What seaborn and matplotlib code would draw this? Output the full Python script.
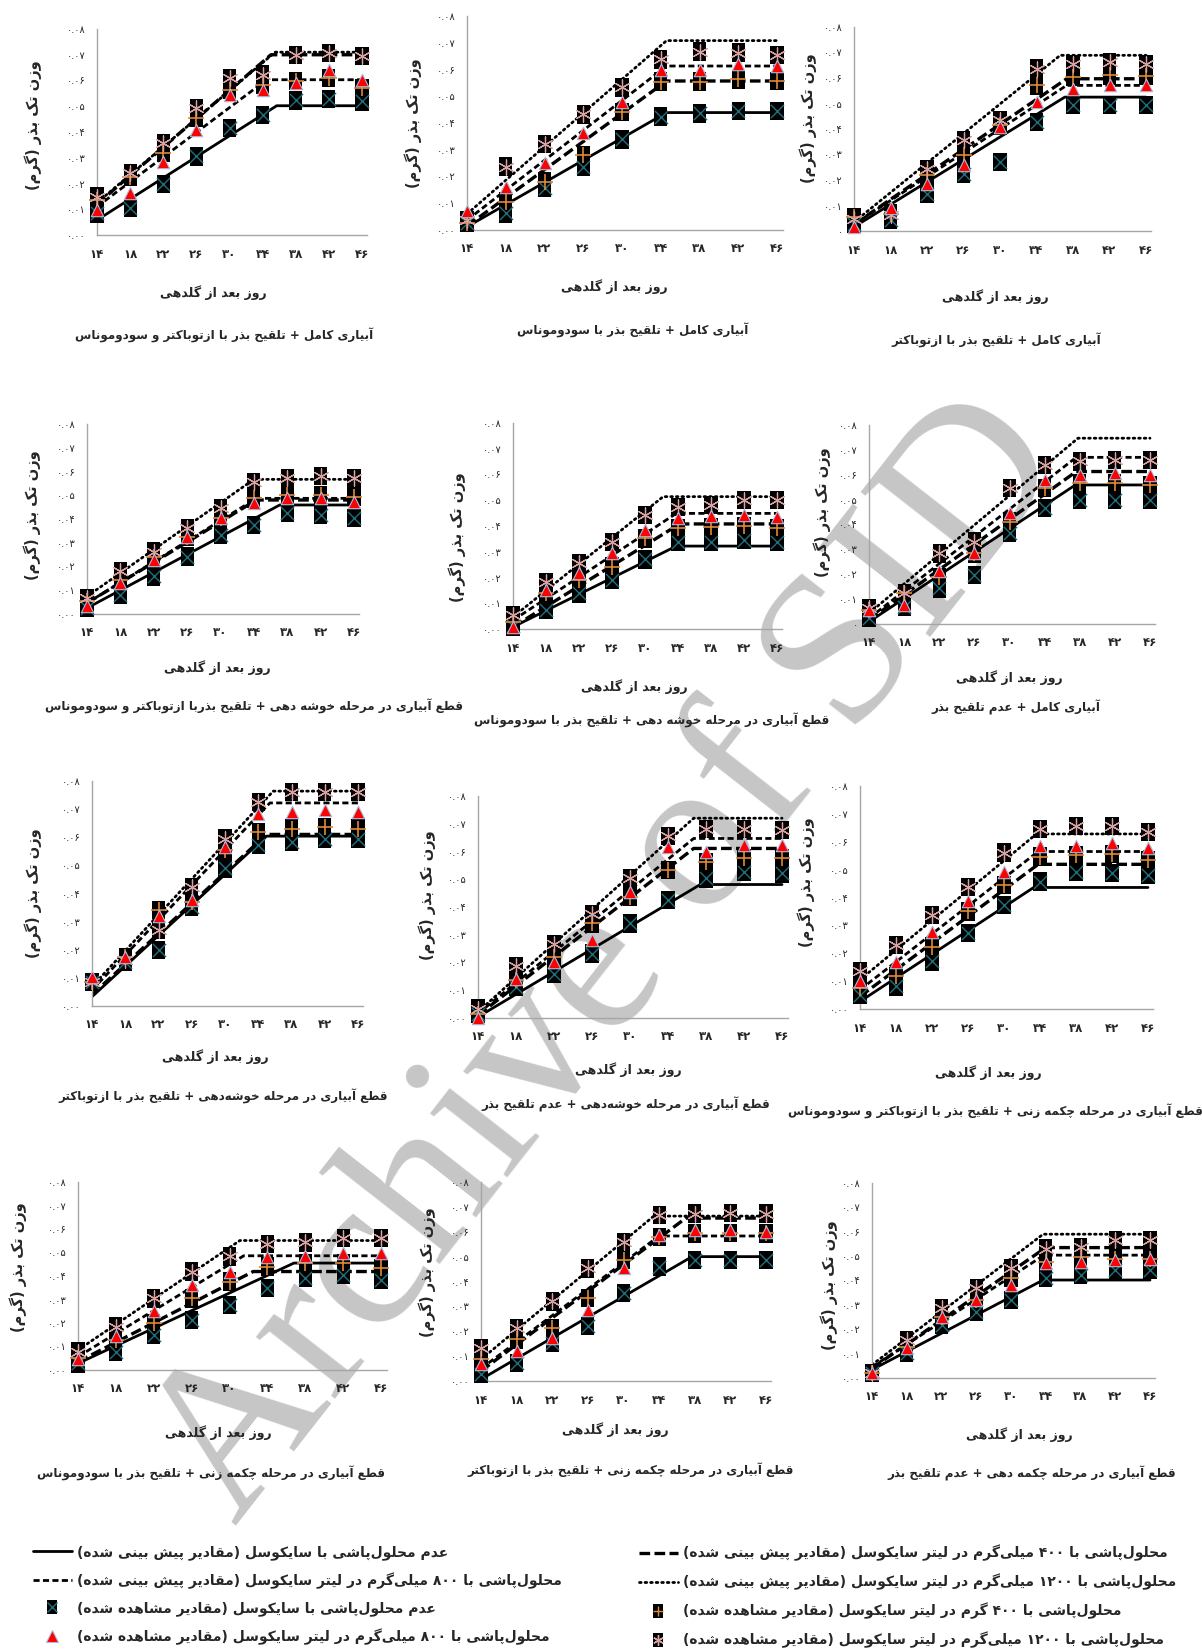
import re
import numpy as np
import pandas as pd
import matplotlib
matplotlib.use("Agg")
import matplotlib.pyplot as plt
from matplotlib.path import Path
from matplotlib.lines import Line2D
from matplotlib.legend_handler import HandlerTuple
import seaborn as sns

# ---------------------------------------------------------------- data
days = [14, 18, 22, 26, 30, 34, 38, 42, 46]

panel_titles = [
    "آبیاری کامل + تلقیح بذر با ازتوباکتر و سودوموناس",
    "آبیاری کامل + تلقیح بذر با سودوموناس",
    "آبیاری کامل + تلقیح بذر با ازتوباکتر",
    "قطع آبیاری در مرحله خوشه دهی + تلقیح بذربا ازتوباکتر و سودوموناس",
    "قطع آبیاری در مرحله خوشه دهی + تلقیح بذر با سودوموناس",
    "آبیاری کامل + عدم تلقیح بذر",
    "قطع آبیاری در مرحله خوشه‌دهی + تلقیح بذر با ازتوباکتر",
    "قطع آبیاری در مرحله خوشه‌دهی + عدم تلقیح بذر",
    "قطع آبیاری در مرحله چکمه زنی + تلقیح بذر با ازتوباکتر و سودوموناس",
    "قطع آبیاری در مرحله چکمه زنی + تلقیح بذر با سودوموناس",
    "قطع آبیاری در مرحله چکمه زنی + تلقیح بذر با ازتوباکتر",
    "قطع آبیاری در مرحله چکمه دهی + عدم تلقیح بذر",
]
x_label = "روز بعد از گلدهی"
y_label = "وزن تک بذر (گرم)"
x_ticklabels = ["۱۴", "۱۸", "۲۲", "۲۶", "۳۰", "۳۴", "۳۸", "۴۲", "۴۶"]
y_ticklabels = ["۰.۰۰", "۰.۰۱", "۰.۰۲", "۰.۰۳", "۰.۰۴", "۰.۰۵", "۰.۰۶", "۰.۰۷", "۰.۰۸"]
short_zero_panels = [2, 5]

# observed single-seed weight (g x 100), one row per panel
obs_control = [
    [0.84, 1.04, 1.98, 3.05, 4.15, 4.67, 5.23, 5.28, 5.19],
    [0.25, 0.62, 1.56, 2.37, 3.39, 4.24, 4.36, 4.45, 4.45],
    [0.29, 0.42, 1.46, 2.25, 2.71, 4.27, 4.93, 4.93, 4.93],
    [0.25, 0.81, 1.58, 2.42, 3.33, 3.75, 4.24, 4.17, 4.03],
    [0.10, 0.73, 1.38, 1.90, 2.70, 3.39, 3.39, 3.45, 3.39],
    [0.23, 0.70, 1.43, 1.97, 3.65, 4.66, 4.99, 4.99, 4.99],
    [0.86, 1.57, 1.99, 3.53, 4.89, 5.72, 5.83, 5.93, 5.93],
    [0.16, 1.12, 1.60, 2.32, 3.41, 4.25, 5.03, 5.27, 5.21],
    [0.51, 0.81, 1.71, 2.72, 3.74, 4.57, 4.93, 4.87, 4.81],
    [0.28, 0.78, 1.49, 2.13, 2.77, 3.48, 3.91, 4.05, 3.84],
    [0.27, 0.73, 1.53, 2.20, 3.53, 4.60, 4.87, 4.87, 4.87],
    [0.20, 1.02, 2.18, 2.72, 3.20, 4.09, 4.22, 4.43, 4.43],
]
obs_400 = [
    [1.36, 2.27, 3.18, 4.54, 5.64, 5.84, 5.97, 6.10, 5.70],
    [0.25, 1.06, 1.81, 2.80, 4.42, 5.55, 5.55, 5.63, 5.57],
    [0.55, 0.68, 2.18, 2.97, 4.14, 5.71, 6.04, 6.10, 6.07],
    [0.53, 1.44, 2.42, 3.26, 4.03, 4.87, 5.01, 5.01, 4.94],
    [0.27, 1.38, 1.90, 2.42, 3.52, 3.91, 3.97, 4.00, 3.91],
    [0.56, 1.23, 1.90, 2.84, 4.12, 5.46, 5.66, 5.66, 5.59],
    [0.86, 1.75, 3.41, 3.70, 5.54, 6.19, 6.31, 6.37, 6.31],
    [0.16, 1.36, 2.20, 3.41, 4.37, 5.33, 5.63, 5.75, 5.75],
    [0.75, 1.19, 2.24, 3.50, 4.45, 5.47, 5.53, 5.56, 5.35],
    [0.50, 1.28, 1.99, 3.05, 3.76, 4.40, 4.55, 4.55, 4.33],
    [0.87, 1.67, 2.13, 3.33, 4.87, 5.80, 5.93, 5.96, 5.93],
    [0.20, 1.29, 2.52, 3.20, 4.09, 4.77, 4.97, 4.90, 4.90],
]
obs_800 = [
    [0.97, 1.65, 2.85, 4.09, 5.45, 5.64, 5.90, 6.42, 6.03],
    [0.72, 1.60, 2.52, 3.61, 4.80, 5.98, 5.98, 6.20, 6.14],
    [0.16, 0.90, 1.86, 2.58, 4.08, 5.06, 5.58, 5.71, 5.71],
    [0.32, 1.30, 2.28, 3.26, 4.03, 4.66, 4.87, 4.87, 4.73],
    [0.08, 1.53, 2.18, 2.94, 3.84, 4.30, 4.39, 4.43, 4.36],
    [0.56, 0.76, 2.14, 2.84, 4.45, 5.79, 5.99, 6.06, 5.99],
    [1.04, 1.75, 3.20, 3.76, 5.66, 6.84, 6.90, 6.98, 6.90],
    [0.00, 1.42, 2.02, 2.80, 4.55, 6.17, 5.99, 6.23, 6.23],
    [0.99, 1.67, 2.75, 3.86, 4.93, 5.83, 5.83, 5.97, 5.77],
    [0.45, 1.45, 2.49, 3.62, 4.16, 4.80, 4.86, 5.00, 4.97],
    [0.67, 1.20, 1.73, 2.87, 4.53, 5.87, 6.07, 6.07, 6.00],
    [0.20, 1.23, 2.52, 3.20, 3.81, 4.70, 4.77, 4.84, 4.90],
]
obs_1200 = [
    [1.49, 2.40, 3.57, 4.93, 6.10, 6.23, 7.00, 7.07, 6.96],
    [0.37, 2.37, 3.21, 4.32, 5.33, 6.38, 6.67, 6.63, 6.54],
    [0.48, 0.61, 2.44, 3.56, 4.34, 6.37, 6.56, 6.63, 6.54],
    [0.67, 1.79, 2.63, 3.61, 4.45, 5.57, 5.71, 5.81, 5.71],
    [0.53, 1.83, 2.55, 3.39, 4.43, 4.75, 4.82, 5.01, 5.01],
    [0.63, 1.23, 2.84, 3.31, 5.46, 6.40, 6.54, 6.60, 6.60],
    [0.86, 1.63, 2.70, 4.24, 5.95, 7.25, 7.61, 7.61, 7.61],
    [0.34, 1.87, 2.65, 3.74, 5.03, 6.56, 6.80, 6.80, 6.77],
    [1.35, 2.30, 3.38, 4.37, 5.61, 6.45, 6.57, 6.57, 6.36],
    [0.78, 1.85, 3.05, 4.19, 4.83, 5.36, 5.43, 5.61, 5.61],
    [1.33, 2.13, 3.20, 4.53, 5.60, 6.67, 6.73, 6.76, 6.73],
    [0.20, 1.57, 2.86, 3.68, 4.50, 5.31, 5.38, 5.65, 5.65],
]

# predicted segmented (linear-plateau) fits: (value at day 14, break day, plateau), g x 100
fit_control = [(0.58, 35.7, 5.02), (0.12, 34.6, 4.39), (0.16, 37.1, 5.25), (0.25, 37.1, 4.59),
               (0.08, 33.8, 3.22), (0.09, 37.5, 5.59), (0.33, 35.0, 6.04), (0.04, 37.4, 4.81),
               (0.27, 33.3, 4.36), (0.28, 36.8, 4.55), (0.07, 37.7, 5.00), (0.34, 33.7, 4.02)]
fit_400 = [(1.20, 35.0, 7.00), (0.15, 34.6, 5.57), (0.26, 37.3, 5.97), (0.46, 34.3, 4.80),
           (0.08, 34.2, 4.08), (0.16, 37.6, 6.13), (0.40, 35.0, 6.10), (0.10, 36.7, 6.11),
           (0.45, 33.8, 5.19), (0.35, 32.5, 4.19), (0.40, 37.0, 6.55), (0.40, 34.0, 5.35)]
fit_800 = [(1.10, 34.5, 6.03), (0.37, 34.6, 6.13), (0.26, 37.3, 5.71), (0.46, 34.3, 4.87),
           (0.34, 33.8, 4.49), (0.23, 37.6, 6.70), (0.57, 35.4, 7.22), (0.16, 36.7, 6.47),
           (0.69, 33.8, 5.65), (0.57, 31.5, 4.86), (0.50, 34.0, 5.83), (0.45, 33.8, 5.04)]
fit_1200 = [(1.25, 35.5, 7.10), (0.60, 34.6, 7.08), (0.35, 36.6, 6.89), (0.74, 34.0, 5.67),
            (0.47, 32.2, 5.14), (0.43, 37.8, 7.47), (0.69, 35.8, 7.64), (0.22, 36.7, 7.20),
            (1.05, 33.6, 6.28), (0.85, 31.1, 5.51), (0.87, 33.4, 6.63), (0.54, 33.7, 5.90)]

legend_labels = [
    "عدم محلول‌پاشی با سایکوسل (مقادیر پیش بینی شده)",
    "محلول‌پاشی با ۸۰۰ میلی‌گرم در لیتر سایکوسل (مقادیر پیش بینی شده)",
    "عدم محلول‌پاشی با سایکوسل (مقادیر مشاهده شده)",
    "محلول‌پاشی با ۸۰۰ میلی‌گرم در لیتر سایکوسل (مقادیر مشاهده شده)",
    "محلول‌پاشی با ۴۰۰ میلی‌گرم در لیتر سایکوسل (مقادیر پیش بینی شده)",
    "محلول‌پاشی با ۱۲۰۰ میلی‌گرم در لیتر سایکوسل (مقادیر پیش بینی شده)",
    "محلول‌پاشی با ۴۰۰ گرم در لیتر سایکوسل (مقادیر مشاهده شده)",
    "محلول‌پاشی با ۱۲۰۰ میلی‌گرم در لیتر سایکوسل (مقادیر مشاهده شده)",
]

# ------------------------------------------------- Persian text shaping
_DUAL = {
    "ب": "\uFE8F\uFE90\uFE91\uFE92", "پ": "\uFB56\uFB57\uFB58\uFB59",
    "ت": "\uFE95\uFE96\uFE97\uFE98", "ث": "\uFE99\uFE9A\uFE9B\uFE9C",
    "ج": "\uFE9D\uFE9E\uFE9F\uFEA0", "چ": "\uFB7A\uFB7B\uFB7C\uFB7D",
    "ح": "\uFEA1\uFEA2\uFEA3\uFEA4", "خ": "\uFEA5\uFEA6\uFEA7\uFEA8",
    "س": "\uFEB1\uFEB2\uFEB3\uFEB4", "ش": "\uFEB5\uFEB6\uFEB7\uFEB8",
    "ص": "\uFEB9\uFEBA\uFEBB\uFEBC", "ض": "\uFEBD\uFEBE\uFEBF\uFEC0",
    "ط": "\uFEC1\uFEC2\uFEC3\uFEC4", "ظ": "\uFEC5\uFEC6\uFEC7\uFEC8",
    "ع": "\uFEC9\uFECA\uFECB\uFECC", "غ": "\uFECD\uFECE\uFECF\uFED0",
    "ف": "\uFED1\uFED2\uFED3\uFED4", "ق": "\uFED5\uFED6\uFED7\uFED8",
    "ک": "\uFB8E\uFB8F\uFB90\uFB91", "گ": "\uFB92\uFB93\uFB94\uFB95",
    "ل": "\uFEDD\uFEDE\uFEDF\uFEE0", "م": "\uFEE1\uFEE2\uFEE3\uFEE4",
    "ن": "\uFEE5\uFEE6\uFEE7\uFEE8", "ه": "\uFEE9\uFEEA\uFEEB\uFEEC",
    "ی": "\uFBFC\uFBFD\uFBFE\uFBFF",
}
_RIGHT = {
    "ا": "\uFE8D\uFE8E", "آ": "\uFE81\uFE82", "د": "\uFEA9\uFEAA",
    "ذ": "\uFEAB\uFEAC", "ر": "\uFEAD\uFEAE", "ز": "\uFEAF\uFEB0",
    "ژ": "\uFB8A\uFB8B", "و": "\uFEED\uFEEE",
}
_LAMALEF = {"ا": "\uFEFB\uFEFC", "آ": "\uFEF5\uFEF6"}


def _shape(s):
    out = []
    n = len(s)
    i = 0
    while i < n:
        c = s[i]
        prev_joins = i > 0 and s[i - 1] in _DUAL
        if c == "ل" and i + 1 < n and s[i + 1] in _LAMALEF:
            forms = _LAMALEF[s[i + 1]]
            out.append(forms[1] if prev_joins else forms[0])
            i += 2
            continue
        if c in _DUAL:
            next_joins = i + 1 < n and (s[i + 1] in _DUAL or s[i + 1] in _RIGHT)
            iso, fin, ini, med = _DUAL[c]
            if prev_joins and next_joins:
                out.append(med)
            elif prev_joins:
                out.append(fin)
            elif next_joins:
                out.append(ini)
            else:
                out.append(iso)
        elif c in _RIGHT:
            iso, fin = _RIGHT[c]
            out.append(fin if prev_joins else iso)
        elif c == "\u200c":
            pass
        else:
            out.append(c)
        i += 1
    return "".join(out)


def fa(s):
    """Shape Persian text and put it in visual (right-to-left) order."""
    vis = _shape(s)[::-1]
    vis = re.sub(r"[0-9\u06F0-\u06F9.]+", lambda m: m.group(0)[::-1], vis)
    return vis.translate(str.maketrans("()", ")("))


# ---------------------------------------------------------------- style
sns.set_theme(style="white")
plt.rcParams["font.family"] = ["DejaVu Sans"]

W, H = 1202, 1652
fig = plt.figure(figsize=(W / 100, H / 100), dpi=100)
fig.patch.set_facecolor("white")


def fx(x):
    return x / W


def fy(y):
    return 1 - y / H


# axes frames: (x of day 14, x of day 46, y of 0.08, y of 0.00) in pixels
frames = [
    (97, 362, 29, 235), (467, 777, 16, 230), (854, 1146, 27, 231),
    (87, 354, 424, 614), (513, 777, 423, 629), (869, 1150, 425, 624),
    (92, 358, 781, 1006), (478, 782, 796, 1018), (860, 1148, 786, 1009),
    (78, 381, 1182, 1370), (481, 766, 1182, 1381), (872, 1150, 1183, 1378),
]
xlabel_pos = [(213, 293), (614, 287), (995, 297), (217, 668), (634, 687), (1009, 678),
              (215, 1057), (628, 1070), (988, 1073), (218, 1433), (615, 1430), (1019, 1435)]
title_pos = [(224, 335), (633, 330), (996, 340), (254, 706), (652, 720), (1016, 707),
             (223, 1096), (626, 1104), (995, 1111), (211, 1473), (631, 1470), (1032, 1473)]
ylabel_pos = [(33, 125), (413, 123), (808, 118), (32, 515), (457, 537), (822, 512),
              (33, 893), (427, 895), (806, 882), (18, 1267), (427, 1272), (829, 1285)]

rect = Path([(-0.36, -0.5), (0.36, -0.5), (0.36, 0.5), (-0.36, 0.5), (-0.36, -0.5)],
            [Path.MOVETO, Path.LINETO, Path.LINETO, Path.LINETO, Path.CLOSEPOLY])
asterisk = (6, 2, 0)

X_MAX = 46.6
line_styles = {
    "control": dict(linestyle="-", lw=2.0),
    "400": dict(linestyle=(0, (3.2, 1.3)), lw=2.4),
    "800": dict(linestyle=(0, (2.2, 1.2)), lw=2.0),
    "1200": dict(linestyle=(0, (0.6, 1.4)), lw=2.0, dash_capstyle="round"),
}
TEAL = "#1e6f7c"
ORANGE = "#de8a35"
PINK = "#d9a3a3"
RED = "#ff0000"
TRI_EDGE = "#a9bde0"

for k in range(12):
    x14, x46, ytop, ybot = frames[k]
    width = (x46 - x14) * (X_MAX - 14) / 32
    ax = fig.add_axes([fx(x14), fy(ybot), width / W, (ybot - ytop) / H])
    ax.patch.set_alpha(0)

    # predicted linear-plateau curves
    for key, fits in (("control", fit_control), ("400", fit_400),
                      ("800", fit_800), ("1200", fit_1200)):
        y0, bp, plateau = fits[k]
        df = pd.DataFrame({"day": [14, bp, 46],
                           "weight": [y0 / 100, plateau / 100, plateau / 100]})
        sns.lineplot(data=df, x="day", y="weight", ax=ax, color="black",
                     legend=False, estimator=None, sort=False, zorder=2,
                     **line_styles[key])

    # observed values
    obs = pd.DataFrame({"day": days,
                        "control": np.array(obs_control[k]) / 100,
                        "c400": np.array(obs_400[k]) / 100,
                        "c800": np.array(obs_800[k]) / 100,
                        "c1200": np.array(obs_1200[k]) / 100})
    for col, inner, icol, isz, ilw in (("control", "x", TEAL, 90, 1.0),
                                       ("c400", "+", ORANGE, 130, 1.2),
                                       ("c1200", asterisk, PINK, 120, 0.9)):
        sns.scatterplot(data=obs, x="day", y=col, ax=ax, marker=rect, s=175,
                        color="black", edgecolor="none", linewidth=0,
                        zorder=3, clip_on=False, legend=False)
        sns.scatterplot(data=obs, x="day", y=col, ax=ax, marker=inner, s=isz,
                        color=icol, linewidth=ilw, zorder=4, clip_on=False,
                        legend=False)
    sns.scatterplot(data=obs, x="day", y="c800", ax=ax, marker="^", s=80,
                    color=RED, edgecolor=TRI_EDGE, linewidth=0.8, zorder=5,
                    clip_on=False, legend=False)

    ax.set_xlim(14, X_MAX)
    ax.set_ylim(0, 0.08)
    ax.set_xticks(days)
    ax.set_xticklabels(x_ticklabels, fontsize=8.5, fontweight="bold")
    yt = list(y_ticklabels)
    if k in short_zero_panels:
        yt[0] = "۰"
    ax.set_yticks(np.linspace(0, 0.08, 9))
    ax.set_yticklabels(yt, fontsize=7)
    ax.tick_params(axis="x", length=0, pad=9)
    ax.tick_params(axis="y", length=0, pad=8)
    ax.set_xlabel("")
    ax.set_ylabel("")
    for side in ("top", "right"):
        ax.spines[side].set_visible(False)
    for side in ("left", "bottom"):
        ax.spines[side].set_color("#a6a6a6")
        ax.spines[side].set_linewidth(1.0)

    fig.text(fx(xlabel_pos[k][0]), fy(xlabel_pos[k][1]), fa(x_label),
             ha="center", va="center", fontsize=9, fontweight="bold")
    fig.text(fx(title_pos[k][0]), fy(title_pos[k][1]), fa(panel_titles[k]),
             ha="center", va="center", fontsize=8.6, fontweight="bold")
    fig.text(fx(ylabel_pos[k][0]), fy(ylabel_pos[k][1]), fa(y_label),
             ha="center", va="center", rotation=90, fontsize=10.5,
             fontweight="bold")

# ---------------------------------------------------------------- legend
def sq(inner, icol, size=9.5):
    base = Line2D([], [], linestyle="none", marker=rect, markersize=size,
                  markerfacecolor="black", markeredgewidth=0)
    top = Line2D([], [], linestyle="none", marker=inner, markersize=size * 0.8,
                 color=icol, markeredgewidth=1.0)
    return (base, top)


handles = [
    Line2D([], [], color="black", **line_styles["control"]),
    Line2D([], [], color="black", **line_styles["800"]),
    sq("x", TEAL),
    Line2D([], [], linestyle="none", marker="^", markersize=9,
           markerfacecolor=RED, markeredgecolor=TRI_EDGE, markeredgewidth=0.8),
    Line2D([], [], color="black", **line_styles["400"]),
    Line2D([], [], color="black", **line_styles["1200"]),
    sq("+", ORANGE),
    sq(asterisk, PINK),
]
labels = [fa(t) for t in legend_labels]
for cols, xpos in ((slice(0, 4), 26), (slice(4, 8), 632)):
    fig.legend(handles[cols], labels[cols], loc="upper left",
               bbox_to_anchor=(fx(xpos), fy(1538)), frameon=False,
               prop={"size": 10, "weight": "bold"}, handlelength=2.8,
               handletextpad=0.4, labelspacing=0.9, borderpad=0,
               handler_map={tuple: HandlerTuple(ndivide=1, pad=0)})

# watermark
fig.text(fx(611), fy(961), "Archive of SID", rotation=52, rotation_mode="anchor",
         ha="center", va="center", fontsize=158, family="Liberation Serif",
         color="#c6c6c6", zorder=-1)

fig.savefig("out.png", dpi=100)
